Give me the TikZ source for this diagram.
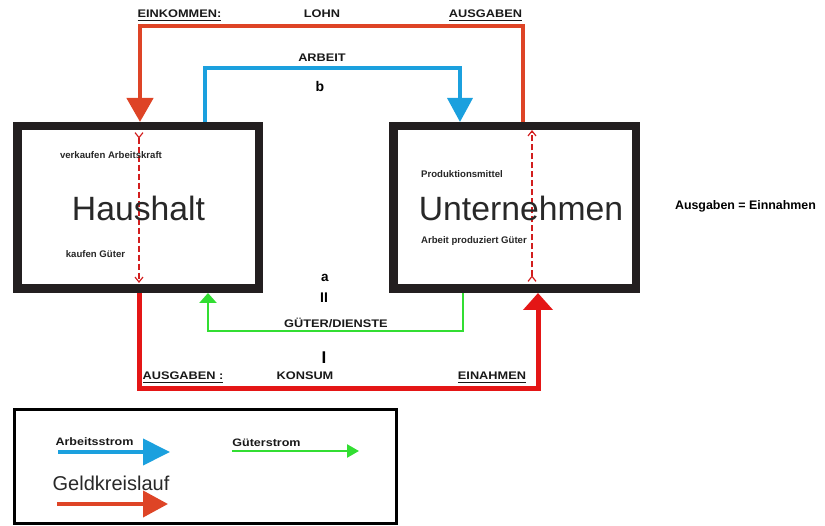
\documentclass[tikz,border=0pt]{standalone}
\usepackage{fontspec}
\setmainfont{Liberation Sans}
\newfontfamily\widefont[FakeStretch=1.16]{Liberation Sans}
\usetikzlibrary{arrows.meta}
\definecolor{redA}{RGB}{222,68,38}
\definecolor{redB}{RGB}{228,22,22}
\definecolor{dashred}{RGB}{210,30,30}
\definecolor{flowblue}{RGB}{27,160,222}
\definecolor{flowgreen}{RGB}{50,222,50}
\definecolor{boxc}{RGB}{35,31,32}
\definecolor{txtgray}{RGB}{40,40,40}
\newcommand{\ulabel}[1]{\setbox0\hbox{#1}\rlap{\vrule width \wd0 height -1.6pt depth 2.6pt}#1}
\tikzset{
  actor/.style={draw=boxc, line width=8.5pt, minimum width=241.5pt, minimum height=162.5pt, inner sep=0pt},
  caplabel/.style={font={\widefont\bfseries\fontsize{11}{13}\selectfont}, text=black!90, anchor=base, inner sep=0pt},
  smalllabel/.style={font={\bfseries\fontsize{9.6}{11}\selectfont}, text=black!85, anchor=base, inner sep=0pt},
  biglabel/.style={font={\fontsize{33.7}{40}\selectfont}, text=txtgray, anchor=base, inner sep=0pt},
  dashflow/.style={draw=dashred, line width=1.4pt, dash pattern=on 6pt off 3pt,
    {Straight Barb[reversed,length=5pt,width=8pt,line width=1.2pt]}-{Straight Barb[length=5pt,width=8pt,line width=1.2pt]}},
}
\begin{document}
\begin{tikzpicture}[x=1pt,y=-1pt]
\useasboundingbox (0,0) rectangle (825,526);

% boxes
\node[actor] (H) at (138,207.5) {};
\node[actor, minimum width=242.5pt] (U) at (514.5,207.5) {};

% corner coordinates
\coordinate (lohnR) at (523,26);
\coordinate (lohnL) at (140,26);
\coordinate (arbL) at (205,68);
\coordinate (arbR) at (460,68);
\coordinate (gutR) at (463,331);
\coordinate (gutL) at (208,331);
\coordinate (konL) at (139,389);
\coordinate (konR) at (538,389);

% money: Lohn (top)
\draw[redA, line width=4.5pt, -{Triangle[length=24pt,width=26pt]}]
  (lohnR |- U.north) -- (lohnR) -- (lohnL) -- (lohnL |- H.north);
% labour (blue)
\draw[flowblue, line width=3.6pt, -{Triangle[length=24pt,width=25pt]}]
  (arbL |- H.north) -- (arbL) -- (arbR) -- (arbR |- U.north);
% goods (green)
\draw[flowgreen, line width=2.5pt, -{Triangle[length=10pt,width=17pt]}]
  (gutR |- U.south) -- (gutR) -- (gutL) -- (gutL |- H.south);
% money: Konsum (bottom)
\draw[redB, line width=5pt, -{Triangle[length=17pt,width=29pt]}]
  (konL |- H.south) -- (konL) -- (konR) -- (konR |- U.south);

% dashed internal flows
\coordinate (hdT) at (139,132);
\coordinate (hdB) at (139,283);
\coordinate (udB) at (532,282);
\coordinate (udT) at (532,130);
\draw[dashflow] (hdT) -- (hdB);
\draw[dashflow] (udB) -- (udT);

% box texts
\node[biglabel] (tH) at (138.5,221) {Haushalt};
\node[biglabel] (tU) at (521,221) {Unternehmen};
\node[smalllabel] (tH1) at (111,158.3) {verkaufen Arbeitskraft};
\node[smalllabel] (tH2) at (95.5,258) {kaufen Güter};
\node[smalllabel] (tU1) at (462,177.5) {Produktionsmittel};
\node[smalllabel] (tU2) at (474,244) {Arbeit produziert Güter};
\node[font={\bfseries\fontsize{12.4}{14}\selectfont}, anchor=base, inner sep=0pt] (eq) at (745.5,210) {Ausgaben = Einnahmen};

% top labels
\node[caplabel] (l1) at (179.5,18) {\ulabel{EINKOMMEN:}};
\node[caplabel] (l2) at (322,18) {LOHN};
\node[caplabel] (l3) at (485.5,18) {\ulabel{AUSGABEN}};
\node[caplabel] (l4) at (322,62) {ARBEIT};
\node[font={\bfseries\fontsize{14}{16}\selectfont}, anchor=base, inner sep=0pt] (lb) at (320,92) {b};

% middle / bottom labels
\node[font={\bfseries\fontsize{13.5}{16}\selectfont}, anchor=base, inner sep=0pt] (la) at (325,282) {a};
\node[font={\bfseries\fontsize{14}{16}\selectfont}, anchor=base, inner sep=0pt] (lII) at (324,303) {II};
\node[caplabel] (l5) at (336,328) {GÜTER/DIENSTE};
\node[font={\bfseries\fontsize{17}{19}\selectfont}, anchor=base, inner sep=0pt] (lI) at (324,364) {I};
\node[caplabel] (l6) at (305,380) {KONSUM};
\node[caplabel] (l7) at (183,380) {\ulabel{AUSGABEN :}};
\node[caplabel] (l8) at (492,380) {\ulabel{EINAHMEN}};

% legend
\node[draw=black, line width=3pt, minimum width=382pt, minimum height=114pt, inner sep=0pt] (legend) at (205.5,466.5) {};
\node[caplabel, font={\widefont\bfseries\fontsize{10.8}{13}\selectfont}] (lg1) at (94.5,446) {Arbeitsstrom};
\node[caplabel, font={\widefont\bfseries\fontsize{10.8}{13}\selectfont}] (lg2) at (266.5,447) {Güterstrom};
\node[font={\fontsize{20}{24}\selectfont}, text=txtgray, anchor=base, inner sep=0pt] (lg3) at (111,490) {Geldkreislauf};
\coordinate (lb1) at (58,452);
\coordinate (lb2) at (170,452);
\coordinate (lgr1) at (232,451);
\coordinate (lgr2) at (359,451);
\coordinate (lr1) at (57,504);
\coordinate (lr2) at (168,504);
\draw[flowblue, line width=4pt, -{Triangle[length=27pt,width=26pt]}] (lb1) -- (lb2);
\draw[flowgreen, line width=2.5pt, -{Triangle[length=12pt,width=13pt]}] (lgr1) -- (lgr2);
\draw[redA, line width=4pt, -{Triangle[length=25pt,width=26pt]}] (lr1) -- (lr2);
\end{tikzpicture}
\end{document}
